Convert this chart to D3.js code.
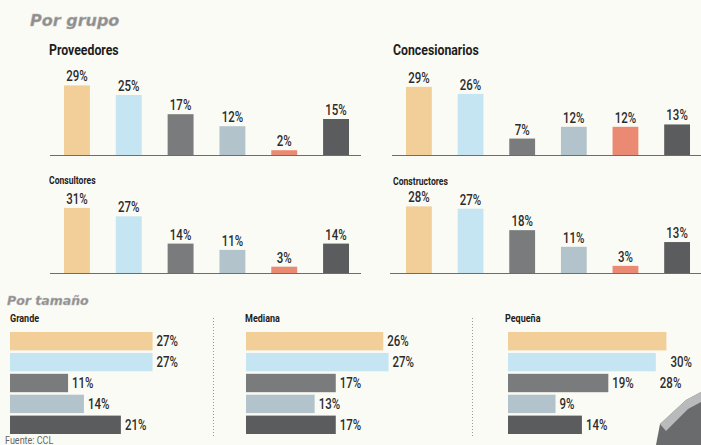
<!DOCTYPE html>
<html lang="es">
<head>
  <meta charset="utf-8">
  <title>Por grupo / Por tamaño</title>
  <script src="https://d3js.org/d3.v7.min.js"></script>
  <style>
  body {
    margin: 0;
    background: #fbfbf5;
  }
  svg {
    display: block;
  }
  .section {
    font-family: "DejaVu Sans", sans-serif;
    font-weight: bold;
    font-style: italic;
    fill: #8e8e8e;
    stroke: #b4b4b4;
    stroke-width: 0.4px;
  }
  .panel-title {
    font-family: Roboto, "Liberation Sans", sans-serif;
    font-weight: bold;
    fill: #1e1e1e;
  }
  .value {
    font-family: Roboto, "Liberation Sans", sans-serif;
    font-weight: 500;
    font-size: 14px;
    fill: #2b2b2b;
  }
  .axis-line {
    stroke: #6d6d6d;
    stroke-width: 1;
  }
  .sep {
    stroke: #9a9a9a;
    stroke-width: 1;
    stroke-dasharray: 1, 2;
  }
  .source {
    font-family: Roboto, "Liberation Sans", sans-serif;
    font-size: 11px;
    fill: #666;
  }
  </style>
</head>
<body>
<script>

// Data
var groupNames = ["Proveedores", "Concesionarios", "Consultores", "Constructores"];
var proveedores = [29, 25, 17, 12, 2, 15];
var concesionarios = [29, 26, 7, 12, 12, 13];
var consultores = [31, 27, 14, 11, 3, 14];
var constructores = [28, 27, 18, 11, 3, 13];

var sizeNames = ["Grande", "Mediana", "Pequeña"];
var grande = [27, 27, 11, 14, 21];
var mediana = [26, 27, 17, 13, 17];
var pequena = [30, 28, 19, 9, 14];

var sourceText = "Fuente: CCL";

// Display constants
var width = 701;
var height = 445;
var squeeze = 0.82; // no condensed font installed, so narrow the glyphs by hand
var groupColors = ["#f2cf99", "#c6e5f3", "#7a7b7c", "#b2c3cb", "#ea8a73", "#5b5c5d"];
var sizeColors = ["#f2cf99", "#c6e5f3", "#7a7b7c", "#b2c3cb", "#5b5c5d"];

function at(x, y) {
  return "translate(" + x + "," + y + ") scale(" + squeeze + ",1)";
}

var svg = d3.select("body")
  .append("svg")
  .attr("width", width)
  .attr("height", height);

svg.append("rect")
  .attr("width", width)
  .attr("height", height)
  .attr("fill", "#fbfbf5");

// Section headings
svg.append("text")
  .attr("class", "section")
  .attr("x", 30)
  .attr("y", 26)
  .style("font-size", "16px")
  .text("Por grupo");

svg.append("text")
  .attr("class", "section")
  .attr("x", 7)
  .attr("y", 305)
  .style("font-size", "12.5px")
  .text("Por tamaño");

// Top panels: vertical bars
var groupPanels = [
  {name: groupNames[0], values: proveedores, titleX: 49, titleY: 55, titleSize: 15,
   axis: [50, 361], bars: [64, 349], base: 155, unit: 2.4},
  {name: groupNames[1], values: concesionarios, titleX: 393, titleY: 55, titleSize: 15,
   axis: [392, 701], bars: [406, 690], base: 155, unit: 2.35},
  {name: groupNames[2], values: consultores, titleX: 49, titleY: 184, titleSize: 10.5,
   axis: [50, 361], bars: [64, 349], base: 273, unit: 2.1},
  {name: groupNames[3], values: constructores, titleX: 393, titleY: 185, titleSize: 10.5,
   axis: [390, 701], bars: [406, 690], base: 273, unit: 2.38}
];

groupPanels.forEach(function(p) {
  var g = svg.append("g");

  var x = d3.scaleBand()
    .domain(d3.range(p.values.length))
    .range(p.bars)
    .paddingInner(0.5)
    .paddingOuter(0);

  var y = d3.scaleLinear()
    .domain([0, 30])
    .range([p.base, p.base - 30 * p.unit]);

  g.append("text")
    .attr("class", "panel-title")
    .attr("transform", at(p.titleX, p.titleY))
    .style("font-size", p.titleSize + "px")
    .text(p.name);

  g.selectAll("rect.bar")
    .data(p.values)
    .enter().append("rect")
    .attr("class", "bar")
    .attr("x", function(d, i) { return x(i); })
    .attr("y", function(d) { return y(d); })
    .attr("width", x.bandwidth())
    .attr("height", function(d) { return y(0) - y(d); })
    .attr("fill", function(d, i) { return groupColors[i]; });

  g.selectAll("text.value")
    .data(p.values)
    .enter().append("text")
    .attr("class", "value")
    .attr("text-anchor", "middle")
    .attr("transform", function(d, i) { return at(x(i) + x.bandwidth() / 2, y(d) - 4); })
    .text(function(d) { return d + "%"; });

  g.append("line")
    .attr("class", "axis-line")
    .attr("x1", p.axis[0])
    .attr("x2", p.axis[1])
    .attr("y1", p.base + 0.5)
    .attr("y2", p.base + 0.5);
});

// Bottom panels: horizontal bars
var sizePanels = [
  {name: sizeNames[0], values: grande, x0: 10, titleX: 10, shift: [0, 0, 0, 0, 0]},
  {name: sizeNames[1], values: mediana, x0: 246, titleX: 245, shift: [0, 0, 0, 0, 0]},
  // the first two labels sit one row lower in the original
  {name: sizeNames[2], values: pequena, x0: 508, titleX: 505, shift: [1, 1, 0, 0, 0]}
];

sizePanels.forEach(function(p) {
  var g = svg.append("g");

  var y = d3.scaleBand()
    .domain(d3.range(p.values.length))
    .range([332, 434])
    .paddingInner(0.12)
    .paddingOuter(0);

  var x = d3.scaleLinear()
    .domain([0, 30])
    .range([p.x0, p.x0 + 30 * 5.28]);

  g.append("text")
    .attr("class", "panel-title")
    .attr("transform", at(p.titleX, 322))
    .style("font-size", "11px")
    .text(p.name);

  g.selectAll("rect.bar")
    .data(p.values)
    .enter().append("rect")
    .attr("class", "bar")
    .attr("x", x(0))
    .attr("y", function(d, i) { return y(i); })
    .attr("width", function(d) { return x(d) - x(0); })
    .attr("height", y.bandwidth())
    .attr("fill", function(d, i) { return sizeColors[i]; });

  g.selectAll("text.value")
    .data(p.values)
    .enter().append("text")
    .attr("class", "value")
    .attr("transform", function(d, i) {
      return at(x(d) + 4, y(i) + y.step() * p.shift[i] + y.bandwidth() / 2 + 5);
    })
    .text(function(d) { return d + "%"; });
});

// Dotted separators between size panels
[213, 472].forEach(function(sx) {
  svg.append("line")
    .attr("class", "sep")
    .attr("x1", sx + 0.5)
    .attr("x2", sx + 0.5)
    .attr("y1", 318)
    .attr("y2", 436);
});

// Corner of a photo in the bottom right
svg.append("polygon")
  .attr("points", "656,445 660,424 686,400 701,392 701,445")
  .attr("fill", "#6a6b6c");
svg.append("polygon")
  .attr("points", "660,424 686,400 701,392 701,402 688,409 666,431")
  .attr("fill", "#b9babb");

svg.append("text")
  .attr("class", "source")
  .attr("transform", at(5, 444))
  .text(sourceText);

</script>
</body>
</html>
